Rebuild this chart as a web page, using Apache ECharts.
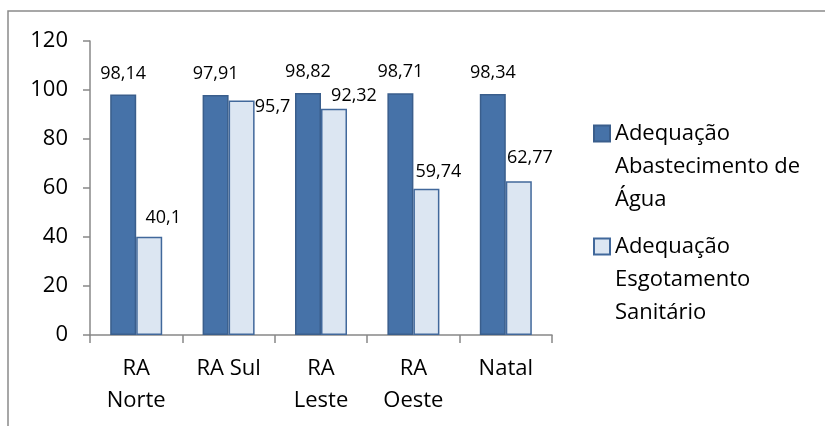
<!DOCTYPE html>
<html>
<head>
<meta charset="utf-8">
<script src="https://cdn.jsdelivr.net/npm/echarts@6/dist/echarts.min.js"></script>
<style>
  html, body { margin: 0; padding: 0; background: #fff; }
  #chart { width: 825px; height: 426px; }
</style>
</head>
<body>
<div id="chart"></div>
<script>
// dados
var categorias = ['RA\nNorte', 'RA Sul', 'RA\nLeste', 'RA\nOeste', 'Natal']
var nomeAgua = 'Adequação\nAbastecimento de\nÁgua'
var nomeEsgoto = 'Adequação\nEsgotamento\nSanitário'
var valoresAgua = [98.14, 97.91, 98.82, 98.71, 98.34]
var valoresEsgoto = [40.1, 95.7, 92.32, 59.74, 62.77]
var yTicks = [0, 20, 40, 60, 80, 100, 120]

// deslocamento dos rótulos (como no Excel)
var esgotoLabelOffsets = [[14, 2], [31, 27], [20, 8], [12, 4], [11, -2]]

var FONT = '"Open Sans", sans-serif'
var fmt = function (v) { return String(v).replace('.', ',') }

var chart = echarts.init(document.getElementById('chart'))

var legendText = {
  color: '#000',
  fontFamily: FONT,
  fontSize: 22,
  lineHeight: 33
}
// duas linhas vazias antes: o ícone fica alinhado com a primeira linha
var legendFmt = function (name) { return '\n\n' + name }

chart.setOption({
  animation: false,
  graphic: [{
    type: 'rect',
    shape: { x: 8, y: 11, width: 840, height: 440 },
    style: { fill: 'none', stroke: '#8a8a8a', lineWidth: 1.5 },
    silent: true
  }],
  grid: { left: 90, right: 273, top: 41, bottom: 91 },
  legend: [
    {
      data: [nomeAgua], orient: 'vertical', left: 593, top: 51,
      padding: 0, itemWidth: 16, itemHeight: 16, itemGap: 0,
      icon: 'rect', textStyle: legendText, formatter: legendFmt
    },
    {
      data: [nomeEsgoto], orient: 'vertical', left: 593, top: 164,
      padding: 0, itemWidth: 16, itemHeight: 16, itemGap: 0,
      icon: 'rect', textStyle: legendText, formatter: legendFmt
    }
  ],
  xAxis: {
    type: 'category',
    data: categorias,
    axisLine: { lineStyle: { color: '#888', width: 1.5 } },
    axisTick: { show: true, length: 8, lineStyle: { color: '#888', width: 1.5 } },
    axisLabel: {
      color: '#000', fontFamily: FONT, fontSize: 22, lineHeight: 32,
      margin: 18, interval: 0
    }
  },
  yAxis: {
    type: 'value',
    min: yTicks[0],
    max: yTicks[yTicks.length - 1],
    interval: yTicks[1] - yTicks[0],
    splitLine: { show: false },
    axisLine: { show: true, lineStyle: { color: '#888', width: 1.5 } },
    axisTick: { show: true, length: 7, lineStyle: { color: '#888', width: 1.5 } },
    axisLabel: { color: '#000', fontFamily: FONT, fontSize: 22, margin: 22 }
  },
  series: [
    {
      name: nomeAgua,
      type: 'bar',
      barWidth: 26,
      barGap: '0%',
      itemStyle: { color: '#4672a8', borderColor: '#3a5e8c', borderWidth: 1.5 },
      label: {
        show: true, position: 'top', distance: 12,
        color: '#000', fontFamily: FONT, fontSize: 18,
        formatter: function (p) { return fmt(p.value) }
      },
      data: valoresAgua
    },
    {
      name: nomeEsgoto,
      type: 'bar',
      barWidth: 26,
      itemStyle: { color: '#dce6f2', borderColor: '#41689b', borderWidth: 1.5 },
      label: {
        show: true, position: 'top', distance: 12,
        color: '#000', fontFamily: FONT, fontSize: 18,
        formatter: function (p) { return fmt(p.value) }
      },
      data: valoresEsgoto.map(function (v, i) {
        return { value: v, label: { offset: esgotoLabelOffsets[i] } }
      })
    }
  ]
})
</script>
</body>
</html>
